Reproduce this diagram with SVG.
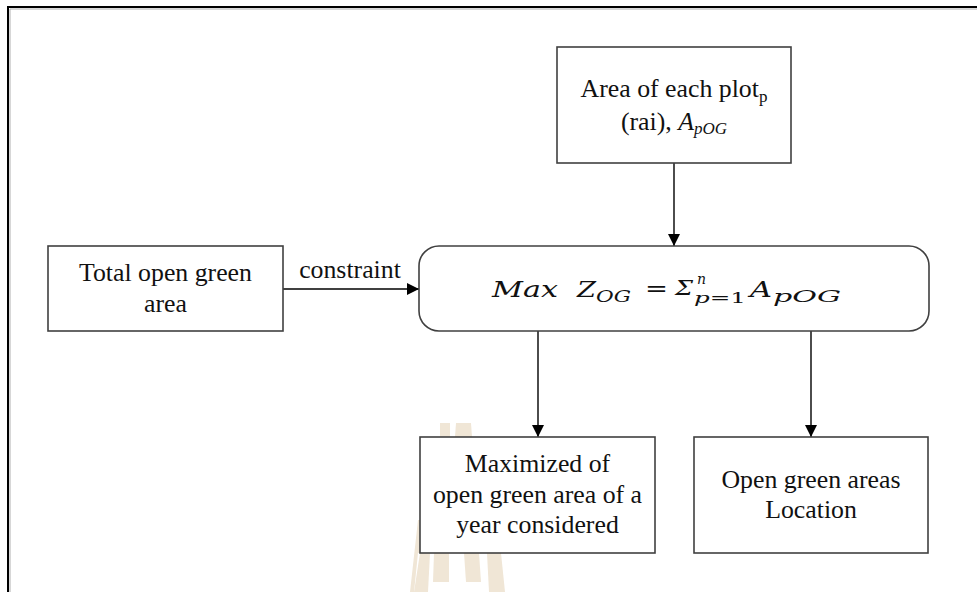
<svg xmlns="http://www.w3.org/2000/svg" width="977" height="592" viewBox="0 0 977 592">
  <style>
    .box { fill: #ffffff; stroke: #404040; stroke-width: 1.6; }
    .lbl { font-family: "Liberation Serif", "Times New Roman", serif; font-size: 25.8px; fill: #111111; text-anchor: middle; }
    .math { font-family: "DejaVu Serif", "Liberation Serif", serif; font-style: italic; fill: #111111; }
    .big { font-size: 23px; }
    .small { font-size: 16px; }
    .wire { stroke: #000000; stroke-width: 1.4; fill: none; marker-end: url(#head); }
    .mark { fill: #f0e6d6; }
  </style>
  <defs>
    <marker id="head" markerUnits="userSpaceOnUse" markerWidth="12" markerHeight="12" refX="12" refY="6" orient="auto">
      <path d="M0,0 L12,6 L0,12 z" fill="#000000"/>
    </marker>
  </defs>

  <rect width="977" height="592" fill="#ffffff"/>

  <!-- faint emblem in the lower background -->
  <g id="emblem">
    <polygon class="mark" points="440,423 450,423 450,437 440,437"/>
    <polygon class="mark" points="456,423 471,423 472,437 455,437"/>
    <polygon class="mark" points="418,520 420,520 420,553 418,553 414,592 410,592"/>
    <polygon class="mark" points="420,553 430,553 428,592 414,592"/>
    <polygon class="mark" points="434,553 449,553 449,582 433,582"/>
    <polygon class="mark" points="464,553 479,553 481,582 466,582"/>
    <polygon class="mark" points="487,553 501,553 505,592 489,592"/>
  </g>

  <!-- page frame -->
  <g id="frame">
    <path d="M8,592 L8,7 L977,7" fill="none" stroke="#000000" stroke-width="2"/>
    <path d="M10,592 L10,9 L977,9" fill="none" stroke="#b0b0b0" stroke-width="1"/>
  </g>

  <!-- connectors -->
  <g id="connectors">
    <line class="wire" x1="674" y1="163" x2="674" y2="246"/>
    <line class="wire" x1="283" y1="289" x2="419" y2="289"/>
    <line class="wire" x1="538" y1="331" x2="538" y2="437"/>
    <line class="wire" x1="811" y1="331" x2="811" y2="437"/>
    <text class="lbl" x="350" y="278">constraint</text>
  </g>

  <g id="plot-area">
    <rect class="box" x="557" y="47" width="234" height="116"/>
    <text class="lbl" x="674" y="97">Area of each plot<tspan font-size="17px" dy="5">p</tspan></text>
    <text class="lbl" x="674" y="130">(rai), <tspan font-style="italic">A</tspan><tspan font-style="italic" font-size="17px" dy="4">pOG</tspan></text>
  </g>

  <g id="total-area">
    <rect class="box" x="48" y="246" width="235" height="85"/>
    <text class="lbl" x="165.5" y="281">Total open green</text>
    <text class="lbl" x="165.5" y="312">area</text>
  </g>

  <!-- objective: Max Z_OG = sum over p of A_pOG -->
  <g id="objective">
    <rect class="box" x="419" y="246" width="510" height="85" rx="20" ry="20"/>
    <text class="math big" x="492" y="297" textLength="66" lengthAdjust="spacingAndGlyphs">Max</text>
    <text class="math big" x="577" y="297" textLength="19" lengthAdjust="spacingAndGlyphs">Z</text>
    <text class="math small" x="596" y="302" textLength="35" lengthAdjust="spacingAndGlyphs">OG</text>
    <text class="math big" font-style="normal" x="645" y="296" textLength="23" lengthAdjust="spacingAndGlyphs">=</text>
    <text class="math" font-size="20px" font-style="normal" x="675" y="295" textLength="18" lengthAdjust="spacingAndGlyphs">Σ</text>
    <text class="math" font-size="14px" x="697" y="284">n</text>
    <text class="math" font-size="15px" x="694" y="303" textLength="52" lengthAdjust="spacingAndGlyphs">p<tspan font-style="normal">=1</tspan></text>
    <text class="math big" x="750" y="297" textLength="22" lengthAdjust="spacingAndGlyphs">A</text>
    <text class="math small" x="773" y="302" textLength="68" lengthAdjust="spacingAndGlyphs">pOG</text>
  </g>

  <g id="maximized">
    <rect class="box" x="420" y="437" width="235" height="116"/>
    <text class="lbl" x="537.5" y="472">Maximized of</text>
    <text class="lbl" x="537.5" y="503">open green area of a</text>
    <text class="lbl" x="537.5" y="533">year considered</text>
  </g>

  <g id="location">
    <rect class="box" x="694" y="437" width="234" height="116"/>
    <text class="lbl" x="811" y="488">Open green areas</text>
    <text class="lbl" x="811" y="518">Location</text>
  </g>
</svg>
